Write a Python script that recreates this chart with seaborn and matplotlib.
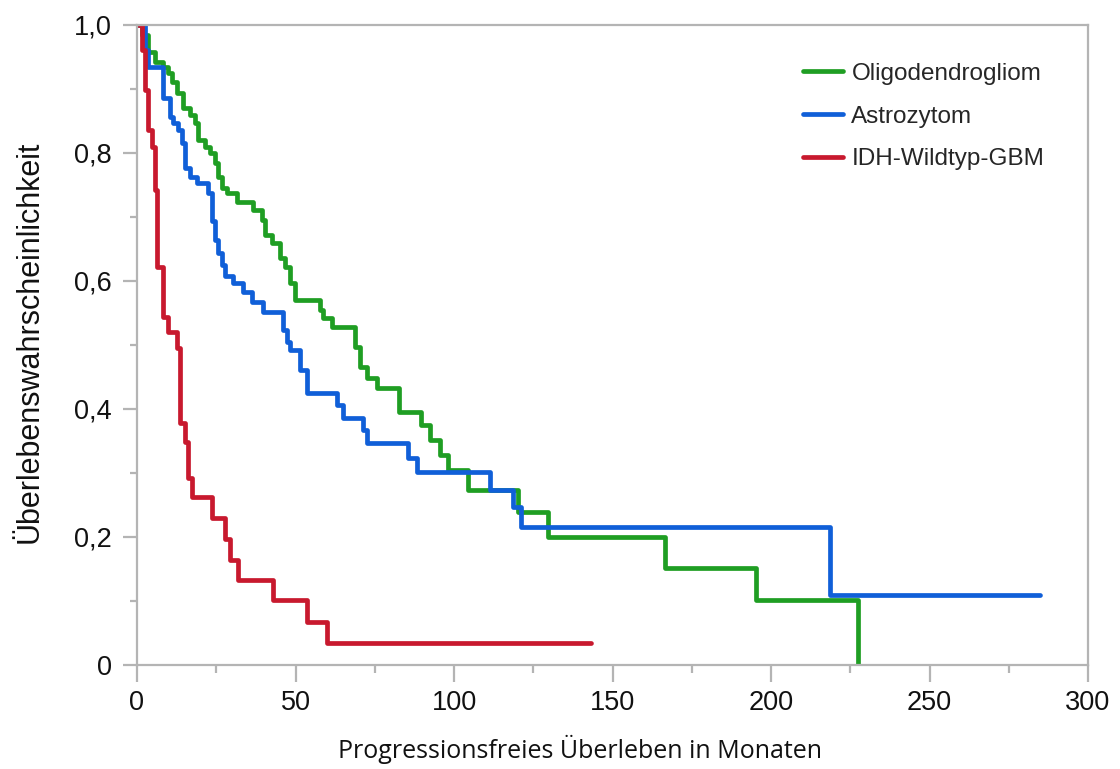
import numpy as np
import pandas as pd
import matplotlib
matplotlib.use("Agg")
import matplotlib.pyplot as plt
from matplotlib.ticker import FixedLocator, MultipleLocator, FuncFormatter
import seaborn as sns

# Kaplan-Meier step curves: event times (months) and survival after each step
oligo_t = [0, 1.5, 3.5, 5.7, 8.2, 9.8, 11.0, 12.6, 14.5, 16.7, 18.3, 19.2, 21.5,
           23.0, 24.6, 25.6, 26.8, 28.4, 31.5, 36.6, 39.4, 40.4, 42.6, 45.1, 46.7,
           48.3, 49.8, 57.7, 58.7, 61.5, 68.8, 70.3, 72.6, 75.7, 82.6, 89.6, 92.4,
           95.6, 98.1, 104.4, 120.2, 129.7, 166.6, 195.3, 227.4]
oligo_s = [1.0, 0.984, 0.958, 0.942, 0.934, 0.925, 0.911, 0.894, 0.870, 0.859,
           0.847, 0.820, 0.809, 0.800, 0.784, 0.763, 0.745, 0.738, 0.723, 0.711,
           0.695, 0.672, 0.659, 0.636, 0.622, 0.597, 0.570, 0.555, 0.542, 0.528,
           0.497, 0.466, 0.448, 0.433, 0.395, 0.375, 0.352, 0.328, 0.305, 0.273,
           0.239, 0.200, 0.152, 0.102, 0.0]

astro_t = [0, 2.5, 3.5, 8.2, 10.4, 11.4, 12.9, 14.2, 15.1, 16.7, 18.9, 22.4, 23.7,
           24.6, 25.6, 26.8, 27.8, 30.3, 33.4, 36.3, 39.7, 46.1, 47.3, 48.3, 51.4,
           53.6, 63.1, 65.0, 71.3, 72.6, 85.5, 88.3, 111.4, 118.6, 121.1, 218.6, 284.9]
astro_s = [1.0, 0.961, 0.934, 0.886, 0.856, 0.847, 0.836, 0.816, 0.777, 0.763,
           0.753, 0.738, 0.694, 0.664, 0.644, 0.625, 0.608, 0.597, 0.583, 0.567,
           0.552, 0.523, 0.505, 0.492, 0.461, 0.425, 0.406, 0.386, 0.367, 0.347,
           0.323, 0.302, 0.273, 0.247, 0.216, 0.109, 0.109]

gbm_t = [0, 1.5, 2.6, 3.5, 4.7, 5.7, 6.3, 8.2, 9.8, 12.6, 13.6, 15.1, 16.1, 17.4,
         23.7, 27.8, 29.3, 31.9, 42.9, 53.6, 59.9, 143.2]
gbm_s = [1.0, 0.961, 0.898, 0.836, 0.809, 0.742, 0.622, 0.544, 0.520, 0.495,
         0.378, 0.348, 0.292, 0.262, 0.230, 0.197, 0.164, 0.133, 0.102, 0.067,
         0.034, 0.034]

groups = ["Oligodendrogliom", "Astrozytom", "IDH-Wildtyp-GBM"]
colors = ["#1f9e23", "#105fd8", "#c8192e"]

x_ticks = [0, 50, 100, 150, 200, 250, 300]
y_ticks = [0, 0.2, 0.4, 0.6, 0.8, 1.0]

df = pd.concat([
    pd.DataFrame({"Monate": oligo_t, "S": oligo_s, "Gruppe": groups[0]}),
    pd.DataFrame({"Monate": astro_t, "S": astro_s, "Gruppe": groups[1]}),
    pd.DataFrame({"Monate": gbm_t, "S": gbm_s, "Gruppe": groups[2]}),
], ignore_index=True)

sns.set_style("white")
plt.rcParams["font.family"] = ["Liberation Sans", "DejaVu Sans"]

fig = plt.figure(figsize=(11.2, 7.69), dpi=100)
ax = fig.add_axes([137 / 1120, 1 - 665 / 769, (1088 - 137) / 1120, (665 - 25) / 769])

sns.lineplot(data=df, x="Monate", y="S", hue="Gruppe", hue_order=groups,
             palette=colors, estimator=None, sort=False, drawstyle="steps-post",
             linewidth=3.4, ax=ax, legend=True)

ax.set_xlim(0, 300)
ax.set_ylim(0, 1.0)

grey = "#b4b4b4"
for sp in ax.spines.values():
    sp.set_color(grey)
    sp.set_linewidth(1.6)

ax.xaxis.set_major_locator(FixedLocator(x_ticks))
ax.xaxis.set_minor_locator(MultipleLocator(25))
ax.yaxis.set_major_locator(FixedLocator(y_ticks))
ax.yaxis.set_minor_locator(MultipleLocator(0.1))
ax.yaxis.set_major_formatter(FuncFormatter(
    lambda v, p: "0" if abs(v) < 1e-9 else f"{v:.1f}".replace(".", ",")))

ax.tick_params(axis="both", which="both", direction="out", color=grey, width=1.6,
               labelsize=19.5, labelcolor="#111111")
ax.tick_params(axis="x", which="major", length=12, pad=6, bottom=True)
ax.tick_params(axis="x", which="minor", length=6, bottom=True)
ax.tick_params(axis="y", which="major", length=10, pad=8, left=True)
ax.tick_params(axis="y", which="minor", length=5, left=True)

ax.set_xlabel("")
ax.set_ylabel("")
fig.text(580 / 1120, 1 - 749 / 769, "Progressionsfreies Überleben in Monaten",
         fontfamily="Open Sans", fontsize=18, color="#111111",
         ha="center", va="center")
fig.text(30 / 1120, 1 - 342 / 769, "Überlebenswahrscheinlichkeit",
         fontsize=22, rotation=90, color="#111111", ha="center", va="center")

leg = ax.legend(loc="upper right", bbox_to_anchor=(0.977, 0.975), frameon=False,
                fontsize=17.5, handlelength=1.65, handletextpad=0.33,
                labelspacing=0.85)
for line in leg.get_lines():
    line.set_linewidth(3.4)

fig.savefig("out.png", dpi=100, facecolor="white")
